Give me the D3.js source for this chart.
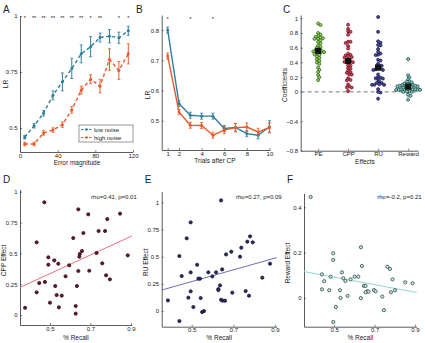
<!DOCTYPE html>
<html>
<head>
<meta charset="utf-8">
<script src="https://cdn.jsdelivr.net/npm/d3@7"></script>
<style>
  body { margin: 0; background: #fff; }
  text { font-family: "Liberation Sans", Arial, sans-serif; fill: #222; }
</style>
</head>
<body>
<svg width="425" height="343"></svg>
<script>
// ---- panel A: learning rate vs error magnitude
const errBins = [5, 15, 25, 35, 45, 55, 65, 75, 85, 95, 105, 115];
const lowNoise = [0.459, 0.51, 0.566, 0.646, 0.706, 0.766, 0.831, 0.863, 0.904, 0.91, 0.903, 0.934];
const lowNoiseErr = [0.008, 0.01, 0.012, 0.02, 0.04, 0.045, 0.04, 0.045, 0.02, 0.03, 0.025, 0.02];
const highNoise = [0.429, 0.429, 0.478, 0.491, 0.515, 0.581, 0.669, 0.718, 0.687, 0.806, 0.757, 0.831];
const highNoiseErr = [0.008, 0.008, 0.01, 0.01, 0.012, 0.015, 0.018, 0.02, 0.03, 0.048, 0.04, 0.045];
const errStars = ["*", "**", "**", "**", "**", "**", "**", "*", "**", "", "*", "*"];

// ---- panel B: learning rate after change point
const trials = [1, 2, 3, 4, 5, 6, 7, 8, 9, 10];
const cpLow = [0.8, 0.557, 0.518, 0.515, 0.515, 0.474, 0.478, 0.457, 0.452, 0.48];
const cpLowErr = [0.01, 0.01, 0.01, 0.01, 0.01, 0.01, 0.012, 0.01, 0.012, 0.02];
const cpHigh = [0.714, 0.529, 0.485, 0.484, 0.452, 0.469, 0.477, 0.479, 0.463, 0.477];
const cpHighErr = [0.01, 0.008, 0.01, 0.01, 0.01, 0.012, 0.014, 0.014, 0.012, 0.015];
const cpStars = [1, 3, 5];

// ---- panel C/D/E/F: per-subject coefficients
const effects = ["PE", "CPP", "RU", "Reward"];
const peCoef = [0.93, 0.91, 0.8, 0.78, 0.76, 0.75, 0.74, 0.73, 0.72, 0.72, 0.7, 0.68, 0.66, 0.63, 0.61, 0.6, 0.58, 0.57, 0.56, 0.55, 0.55, 0.54, 0.53, 0.52, 0.51, 0.5, 0.48, 0.46, 0.44, 0.42, 0.4, 0.38, 0.33, 0.3, 0.27, 0.23, 0.2, 0.16];

const cppRecall = [0.472, 0.64, 0.689, 0.846, 0.783, 0.665, 0.74, 0.772, 0.615, 0.434, 0.658, 0.647, 0.645, 0.73, 0.884, 0.492, 0.521, 0.541, 0.492, 0.595, 0.758, 0.577, 0.64, 0.694, 0.777, 0.796, 0.475, 0.447, 0.526, 0.633, 0.434, 0.533, 0.558, 0.5, 0.377, 0.544, 0.627, 0.627];
const cppCoef = [0.914, 0.857, 0.816, 0.822, 0.778, 0.665, 0.681, 0.681, 0.624, 0.589, 0.519, 0.495, 0.473, 0.503, 0.484, 0.468, 0.443, 0.416, 0.408, 0.403, 0.419, 0.314, 0.357, 0.359, 0.322, 0.289, 0.268, 0.259, 0.235, 0.235, 0.184, 0.162, 0.157, 0.1, 0.059, 0.062, 0.073, 0.011];

const ruRecall = [0.641, 0.495, 0.476, 0.78, 0.767, 0.793, 0.738, 0.69, 0.665, 0.732, 0.441, 0.526, 0.876, 0.646, 0.495, 0.58, 0.617, 0.452, 0.599, 0.532, 0.54, 0.839, 0.636, 0.628, 0.628, 0.495, 0.759, 0.695, 0.775, 0.484, 0.543, 0.386, 0.641, 0.648, 0.66, 0.508, 0.559, 0.55, 0.441];
const ruCoef = [1.018, 0.816, 0.669, 0.687, 0.638, 0.632, 0.583, 0.546, 0.521, 0.5, 0.506, 0.426, 0.436, 0.383, 0.356, 0.356, 0.356, 0.322, 0.319, 0.298, 0.298, 0.307, 0.236, 0.202, 0.193, 0.181, 0.184, 0.169, 0.141, 0.123, 0.12, 0.098, 0.104, 0.095, 0.095, 0.037, 0, -0.009, -0.092];

const rewardRecall = [0.383, 0.632, 0.495, 0.495, 0.637, 0.763, 0.776, 0.538, 0.439, 0.482, 0.601, 0.619, 0.545, 0.555, 0.581, 0.789, 0.45, 0.852, 0.888, 0.647, 0.655, 0.439, 0.475, 0.528, 0.697, 0.705, 0.664, 0.655, 0.67, 0.801, 0.781, 0.566, 0.531, 0.632, 0.738, 0.508, 0.746, 0.495];
const rewardCoef = [0.446, 0.224, 0.197, 0.168, 0.141, 0.138, 0.128, 0.113, 0.104, 0.094, 0.094, 0.094, 0.087, 0.075, 0.082, 0.082, 0.074, 0.069, 0.065, 0.053, 0.053, 0.038, 0.034, 0.034, 0.035, 0.029, 0.029, 0.025, 0.028, 0.034, 0.025, 0.009, 0, -0.001, 0.006, -0.04, -0.054, -0.106];

// fitted lines [intercept, slope] and stats text
const cppFit = [-0.042, 0.755];
const ruFit = [0.001, 0.54];
const rewardFit = [0.174, -0.165];
const cppStat = "rho=0.41, p=0.01";
const ruStat = "rho=0.27, p=0.09";
const rewardStat = "rho=-0.2, p=0.21";

const blue = "#2f7e9b";
const orange = "#e85a2a";

const svg = d3.select("svg");

// MATLAB-ish axes: inward ticks, no box
const drawAxes = (x, y, xTicks, yTicks, yFmt, xFmt) => {
  const g = svg.append("g").attr("font-size", 6);
  const xa = g.append("g")
    .attr("transform", `translate(0,${y.range()[0]})`)
    .call(d3.axisBottom(x).tickValues(xTicks).tickSizeInner(-2).tickSizeOuter(0).tickPadding(1.5).tickFormat(xFmt || (d => d)));
  const ya = g.append("g")
    .attr("transform", `translate(${x.range()[0]},0)`)
    .call(d3.axisLeft(y).tickValues(yTicks).tickSizeInner(-2).tickSizeOuter(0).tickPadding(2.5).tickFormat(yFmt || (d => d)));
  [xa, ya].forEach(a => {
    a.attr("font-family", null).attr("font-size", null);
    a.select(".domain").attr("stroke", "#333").attr("stroke-width", 0.8);
    a.selectAll(".tick line").attr("stroke", "#333").attr("stroke-width", 0.6);
  });
  return g;
};

const label = (x, y, txt, opts = {}) => {
  const t = svg.append("text")
    .attr("x", x).attr("y", y)
    .attr("font-size", opts.size || 6.5)
    .attr("text-anchor", opts.anchor || "middle")
    .text(txt);
  if (opts.rotate) t.attr("transform", `rotate(-90,${x},${y})`);
  return t;
};

const minus = d => (d < 0 ? "\u2212" + Math.abs(d) : "" + d);

const errorSeries = (x, y, xs, ys, es, color, dash) => {
  const g = svg.append("g");
  const line = d3.line().x((d, i) => x(xs[i])).y(d => y(d));
  g.append("path").attr("d", line(ys)).attr("fill", "none")
    .attr("stroke", color).attr("stroke-width", 1.4)
    .attr("stroke-dasharray", dash ? "3.5,2.5" : null);
  ys.forEach((v, i) => {
    const cx = x(xs[i]);
    const y0 = y(v - es[i]), y1 = y(v + es[i]);
    g.append("line").attr("x1", cx).attr("x2", cx).attr("y1", y0).attr("y2", y1)
      .attr("stroke", color).attr("stroke-width", 1);
    [y0, y1].forEach(yy => g.append("line").attr("x1", cx - 1.5).attr("x2", cx + 1.5)
      .attr("y1", yy).attr("y2", yy).attr("stroke", color).attr("stroke-width", 0.8));
    g.append("circle").attr("cx", cx).attr("cy", y(v)).attr("r", 1.5).attr("fill", color);
  });
};

// ================= A
{
  const x = d3.scaleLinear().domain([0, 120]).range([20, 133]);
  const y = d3.scaleLinear().domain([0.393, 1]).range([152, 16]);
  drawAxes(x, y, [0, 40, 80, 120], [0.5, 0.75, 1]);
  errorSeries(x, y, errBins, lowNoise, lowNoiseErr, blue, true);
  errorSeries(x, y, errBins, highNoise, highNoiseErr, orange, true);
  errBins.forEach((b, i) => {
    if (errStars[i]) label(x(b), 20, errStars[i], { size: 5.5 });
  });
  label(3, 13, "A", { size: 10, anchor: "start" });
  label(8, 84, "LR", { rotate: true });
  label(77, 165, "Error magnitude");
  // legend
  const lg = svg.append("g");
  lg.append("rect").attr("x", 79).attr("y", 125).attr("width", 54).attr("height", 17)
    .attr("fill", "#fff").attr("stroke", "#555").attr("stroke-width", 0.6);
  [["low noise", blue, 129.5], ["high noise", orange, 137.5]].forEach(([t, c, yy]) => {
    lg.append("line").attr("x1", 81).attr("x2", 92).attr("y1", yy).attr("y2", yy)
      .attr("stroke", c).attr("stroke-width", 1).attr("stroke-dasharray", "2.5,1.5");
    lg.append("circle").attr("cx", 86.5).attr("cy", yy).attr("r", 1.3).attr("fill", c);
    lg.append("text").attr("x", 94).attr("y", yy + 2).attr("font-size", 6).text(t);
  });
}

// ================= B
{
  const x = d3.scaleLinear().domain([0.47, 10.05]).range([161.7, 270]);
  const y = d3.scaleLinear().domain([0.403, 0.85]).range([150, 15]);
  drawAxes(x, y, [1, 2, 4, 6, 8, 10], [0.5, 0.6, 0.7, 0.8]);
  errorSeries(x, y, trials, cpLow, cpLowErr, blue, false);
  errorSeries(x, y, trials, cpHigh, cpHighErr, orange, false);
  cpStars.forEach(t => label(x(t), 21, "*", { size: 5.5 }));
  label(136, 13, "B", { size: 10, anchor: "start" });
  label(150, 95, "LR", { rotate: true });
  label(215, 163, "Trials after CP");
}

// ================= C
{
  const x = d3.scaleLinear().domain([0.42, 4.33]).range([300.7, 418]);
  const y = d3.scaleLinear().domain([-0.8, 1.045]).range([150.7, 15]);
  drawAxes(x, y, [1, 2, 3, 4], [-0.8, -0.4, 0, 0.2, 0.4, 0.6, 0.8, 1], minus, (d, i) => effects[i]);
  svg.append("line").attr("x1", x.range()[0]).attr("x2", x.range()[1])
    .attr("y1", y(0)).attr("y2", y(0))
    .attr("stroke", "#777").attr("stroke-width", 1).attr("stroke-dasharray", "4,3");

  const groups = [
    { vals: peCoef, stroke: "#2e6b12", fill: "#9acd6a" },
    { vals: cppCoef, stroke: "#7a1424", fill: "#c0485a" },
    { vals: ruCoef, stroke: "#1c1c55", fill: "#4c4c8c" },
    { vals: rewardCoef, stroke: "#174a45", fill: "#8fd0c4" },
  ];
  const r = 1.5;
  groups.forEach((grp, gi) => {
    const cx0 = x(gi + 1);
    const placed = [];
    grp.vals.map(v => y(v)).sort((a, b) => a - b).forEach(py => {
      for (let k = 0; k < 60; k++) {
        const off = (k % 2 ? 1 : -1) * Math.ceil(k / 2) * r * 0.8;
        const ok = placed.every(p => Math.hypot(p[0] - (cx0 + off), p[1] - py) >= 2 * r * 0.75);
        if (ok) { placed.push([cx0 + off, py]); break; }
      }
    });
    placed.forEach(([px, py]) => {
      svg.append("circle").attr("cx", px).attr("cy", py).attr("r", r)
        .attr("fill", grp.fill).attr("stroke", grp.stroke).attr("stroke-width", 0.8);
    });
    const m = y(d3.mean(grp.vals));
    svg.append("rect").attr("x", cx0 - 3).attr("y", m - 3).attr("width", 6).attr("height", 6)
      .attr("fill", "#111");
  });
  label(283, 13, "C", { size: 10, anchor: "start" });
  label(287, 85, "Coefficients", { rotate: true });
  label(365, 164, "Effects");
}

// ================= D/E/F scatters
const scatterPanel = (p) => {
  const x = d3.scaleLinear().domain(p.xd).range(p.xr);
  const y = d3.scaleLinear().domain(p.yd).range(p.yr);
  drawAxes(x, y, [0.5, 0.7, 0.9], p.yTicks);
  const [a, b] = p.fit;
  svg.append("line")
    .attr("x1", x(p.xd[0])).attr("y1", y(a + b * p.xd[0]))
    .attr("x2", x(p.xd[1])).attr("y2", y(a + b * p.xd[1]))
    .attr("stroke", p.lineColor).attr("stroke-width", 1);
  svg.append("g").selectAll("circle").data(p.ys).join("circle")
    .attr("cx", (d, i) => x(p.xs[i])).attr("cy", d => y(d)).attr("r", 1.6)
    .attr("fill", p.fill).attr("stroke", p.stroke).attr("stroke-width", 0.8);
  label(p.xr[1] + 5, 199, p.stat, { size: 6, anchor: "end" });
  label(p.xr[0] - 17, 183, p.letter, { size: 10, anchor: "start" });
  label(p.xr[0] - 14, (p.yr[0] + p.yr[1]) / 2 + 3, p.ylab, { rotate: true });
  label((p.xr[0] + p.xr[1]) / 2, 340, "% Recall");
};

scatterPanel({
  letter: "D", xs: cppRecall, ys: cppCoef, fit: cppFit, stat: cppStat, ylab: "CPP Effect",
  xd: [0.352, 0.904], xr: [20, 131.8], yd: [-0.081, 1.016], yr: [325, 189.7],
  yTicks: [0, 0.25, 0.5, 0.75, 1], lineColor: "#e8707e", fill: "#5c1a2c", stroke: "#3a0e18",
});
scatterPanel({
  letter: "E", xs: ruRecall, ys: ruCoef, fit: ruFit, stat: ruStat, ylab: "RU Effect",
  xd: [0.356, 0.908], xr: [161.7, 276.7], yd: [-0.144, 1.098], yr: [326.7, 191.7],
  yTicks: [0, 0.25, 0.5, 0.75, 1], lineColor: "#6e6eb4", fill: "#2c2c5e", stroke: "#16163a",
});
scatterPanel({
  letter: "F", xs: rewardRecall, ys: rewardCoef, fit: rewardFit, stat: rewardStat, ylab: "Reward Effect",
  xd: [0.35, 0.908], xr: [304, 416.6], yd: [-0.127, 0.462], yr: [326.7, 193.3],
  yTicks: [0, 0.2, 0.4], lineColor: "#93d6d2", fill: "#cfe8e2", stroke: "#2a4a48",
});
</script>
</body>
</html>
